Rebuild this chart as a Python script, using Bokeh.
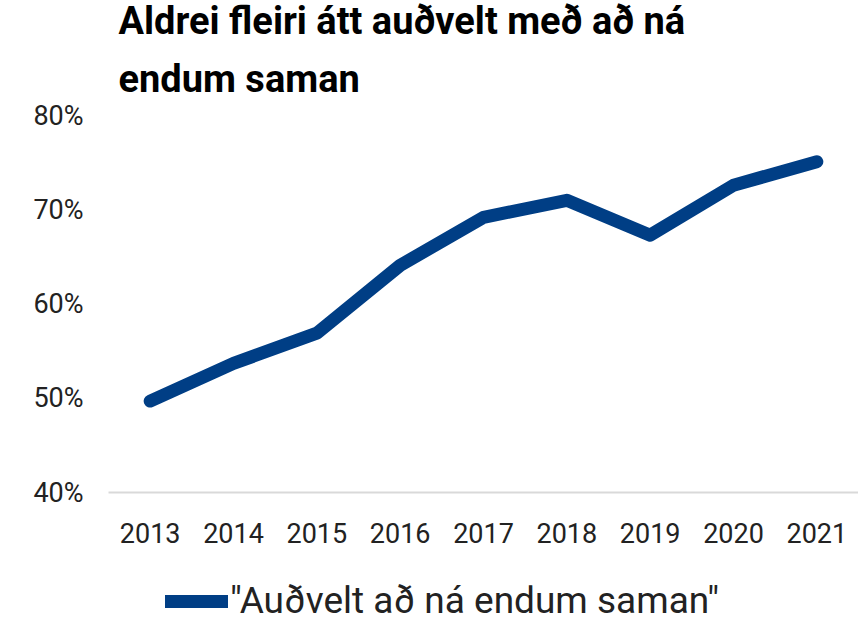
from bokeh.plotting import figure
from bokeh.layouts import column
from bokeh.models import Legend, LegendItem, FixedTicker, PrintfTickFormatter, Title
from bokeh.embed import file_html
from bokeh.resources import INLINE

years = ["2013", "2014", "2015", "2016", "2017", "2018", "2019", "2020", "2021"]
share = [49.7, 53.7, 56.9, 64.1, 69.2, 71.0, 67.3, 72.6, 75.1]
y_ticks = [40, 50, 60, 70, 80]
series_name = '"Auðvelt að ná endum saman"'
title_lines = ["Aldrei fleiri átt auðvelt með að ná", "endum saman"]

LINE_COLOR = "#003e85"

p = figure(x_range=years, y_range=(40, 80), width=858, height=548,
           output_backend="svg", toolbar_location=None, title=None,
           min_border_left=108, min_border_right=0, min_border_top=0,
           min_border_bottom=56)
# first added sits closest to the plot, so add the second line first
p.add_layout(Title(text=title_lines[1], text_font="Roboto", text_font_size="38px",
                   text_font_style="bold", text_color="#000000", offset=10,
                   standoff=30), "above")
p.add_layout(Title(text=title_lines[0], text_font="Roboto", text_font_size="38px",
                   text_font_style="bold", text_color="#000000", offset=10,
                   standoff=-7), "above")

r = p.line(years, share, line_width=13, line_color=LINE_COLOR,
           line_join="round", line_cap="round")

p.xgrid.visible = False
p.ygrid.visible = False
p.outline_line_color = None

p.yaxis.ticker = FixedTicker(ticks=y_ticks)
p.yaxis.formatter = PrintfTickFormatter(format="%d%%")
p.yaxis.axis_line_color = None
p.yaxis.major_tick_line_color = None
p.yaxis.minor_tick_line_color = None
p.yaxis.major_label_standoff = 19
p.yaxis.major_label_text_font = "Roboto"
p.yaxis.major_label_text_font_size = "27px"
p.yaxis.major_label_text_color = "#222222"

p.xaxis.axis_line_color = "#d9d9d9"
p.xaxis.axis_line_width = 2
p.xaxis.major_tick_line_color = None
p.xaxis.minor_tick_line_color = None
p.xaxis.major_label_standoff = 24
p.xaxis.major_label_text_font = "Roboto"
p.xaxis.major_label_text_font_size = "27px"
p.xaxis.major_label_text_color = "#222222"

# legend strip below the chart
p2 = figure(x_range=years, y_range=(0, 1), width=858, height=74,
            output_backend="svg", toolbar_location=None,
            x_axis_location=None, y_axis_location=None,
            min_border_left=0, min_border_right=0, min_border_top=0,
            min_border_bottom=0)
p2.xgrid.visible = False
p2.ygrid.visible = False
p2.outline_line_color = None
r2 = p2.line(years, share, line_width=13, line_color=LINE_COLOR,
             line_join="round", line_cap="round")

legend = Legend(items=[LegendItem(label=series_name, renderers=[r2])],
                orientation="horizontal", location=(57, 0),
                label_text_font="Roboto", label_text_font_size="37px",
                label_text_color="#222222", glyph_width=63, glyph_height=30,
                label_standoff=2, border_line_color=None,
                background_fill_alpha=0, padding=0, margin=0)
p2.add_layout(legend)

layout = column(p, p2, spacing=0)
open("out.html", "w").write(file_html(layout, INLINE))
